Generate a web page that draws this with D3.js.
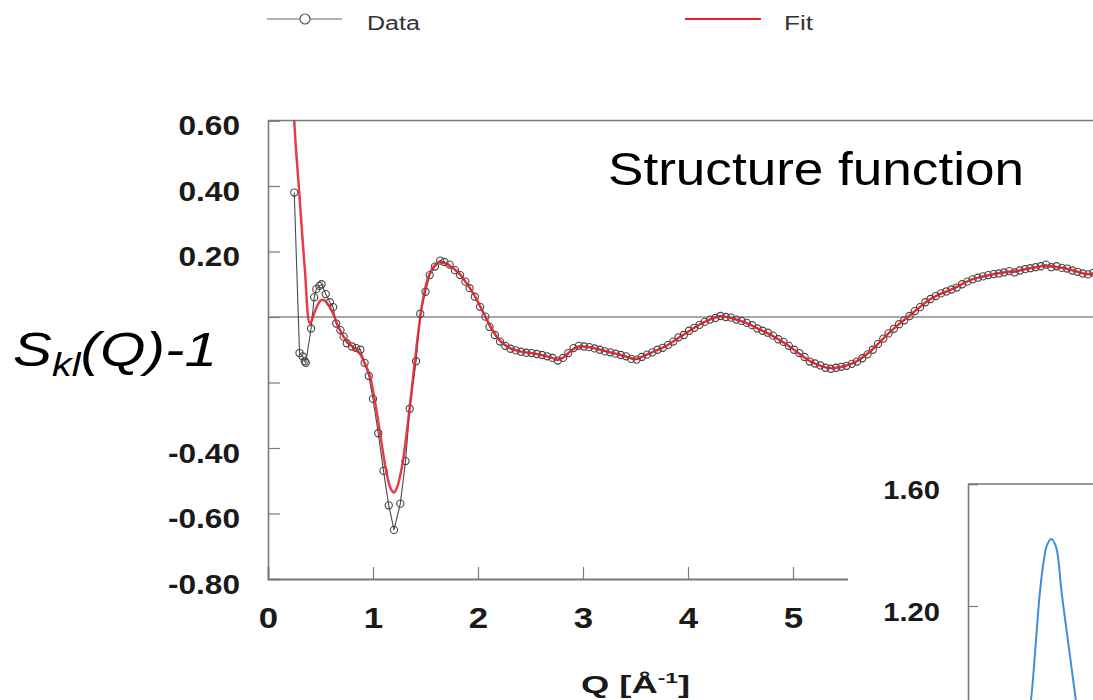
<!DOCTYPE html>
<html>
<head>
<meta charset="utf-8">
<script src="https://cdn.jsdelivr.net/npm/d3@7"></script>
<style>
  html, body { margin: 0; padding: 0; background: #fff; }
  svg { display: block; }
  text { font-family: "Liberation Sans", Arial, sans-serif; }
</style>
</head>
<body>
<svg id="chart" width="1093" height="700"></svg>
<script>
// Measured structure function S_kl(Q)-1 (open circles)
const dataQ = [0.25,0.30,0.33,0.35,0.36,0.41,0.44,0.46,0.49,0.51,0.55,0.59,0.62,0.65,0.69,0.72,0.75,0.80,0.84,0.88,
  0.92,0.96,1.00,1.05,1.10,1.15,1.20,1.26,1.31,1.35,1.41,1.45,1.50,1.54,1.59,1.64,1.68,1.73,1.78,1.83,
  1.88,1.92,1.97,2.02,2.07,2.11,2.16,2.21,2.26,2.31,2.36,2.41,2.46,2.51,2.56,2.61,2.66,2.71,2.76,2.81,
  2.86,2.91,2.96,3.01,3.06,3.11,3.16,3.21,3.26,3.31,3.36,3.41,3.46,3.51,3.56,3.61,3.66,3.71,3.76,3.81,
  3.86,3.91,3.96,4.01,4.06,4.11,4.16,4.21,4.26,4.31,4.36,4.41,4.46,4.51,4.56,4.61,4.66,4.71,4.76,4.81,
  4.86,4.91,4.96,5.01,5.06,5.11,5.16,5.21,5.26,5.31,5.36,5.41,5.46,5.51,5.56,5.61,5.66,5.71,5.76,5.81,
  5.86,5.91,5.96,6.01,6.06,6.11,6.16,6.21,6.26,6.31,6.36,6.41,6.46,6.51,6.56,6.61,6.66,6.71,6.76,6.81,
  6.86,6.91,6.96,7.01,7.06,7.11,7.16,7.21,7.26,7.31,7.36,7.41,7.46,7.51,7.56,7.61,7.66,7.71,7.76,7.81,7.86];
const dataS = [0.38,-0.11,-0.12,-0.135,-0.14,-0.035,0.06,0.085,0.095,0.10,0.07,0.045,0.03,-0.02,-0.04,-0.06,-0.08,-0.09,-0.095,-0.10,
  -0.14,-0.18,-0.25,-0.355,-0.47,-0.575,-0.65,-0.57,-0.44,-0.28,-0.135,0.01,0.077,0.128,0.154,0.172,0.168,0.16,0.143,0.128,
  0.108,0.088,0.062,0.031,0.001,-0.03,-0.055,-0.075,-0.088,-0.097,-0.102,-0.106,-0.109,-0.11,-0.113,-0.116,-0.12,-0.125,-0.133,-0.125,
  -0.11,-0.095,-0.088,-0.09,-0.092,-0.096,-0.10,-0.105,-0.108,-0.112,-0.116,-0.12,-0.128,-0.13,-0.122,-0.115,-0.108,-0.10,-0.094,-0.085,
  -0.075,-0.062,-0.055,-0.042,-0.033,-0.024,-0.015,-0.008,-0.003,0.003,0.0,-0.002,-0.008,-0.012,-0.018,-0.025,-0.035,-0.042,-0.048,-0.057,
  -0.068,-0.076,-0.088,-0.10,-0.11,-0.122,-0.136,-0.142,-0.148,-0.155,-0.158,-0.155,-0.152,-0.149,-0.143,-0.136,-0.126,-0.114,-0.10,-0.082,
  -0.066,-0.05,-0.036,-0.022,-0.01,0.003,0.018,0.03,0.045,0.055,0.064,0.072,0.078,0.084,0.09,0.10,0.108,0.115,0.12,0.124,
  0.128,0.131,0.133,0.136,0.14,0.136,0.142,0.146,0.149,0.152,0.155,0.16,0.152,0.155,0.15,0.148,0.142,0.138,0.133,0.13,0.135];

// Model fit (red curve)
const fitQ = [0.235,0.25,0.30,0.35,0.40,0.45,0.50,0.53,0.57,0.62,0.67,0.72,0.77,0.82,0.87,0.92,0.97,1.02,1.07,1.12,
  1.17,1.20,1.23,1.28,1.33,1.38,1.43,1.48,1.53,1.58,1.63,1.68,1.73,1.78,1.83,1.88,1.93,1.98,2.03,2.08,
  2.13,2.18,2.23,2.30,2.40,2.50,2.60,2.70,2.76,2.82,2.90,2.98,3.10,3.20,3.30,3.40,3.50,3.60,3.70,3.80,
  3.90,4.00,4.10,4.20,4.30,4.40,4.50,4.60,4.70,4.80,4.90,5.00,5.10,5.20,5.30,5.40,5.50,5.60,5.70,5.80,
  5.90,6.00,6.10,6.20,6.30,6.40,6.50,6.60,6.70,6.80,6.90,7.00,7.10,7.20,7.30,7.40,7.50,7.60,7.70,7.80,7.90];
const fitS = [0.80,0.60,0.37,0.15,-0.02,0.02,0.05,0.052,0.04,0.01,-0.03,-0.06,-0.08,-0.095,-0.11,-0.14,-0.18,-0.26,-0.36,-0.46,
  -0.525,-0.536,-0.52,-0.45,-0.33,-0.19,-0.05,0.06,0.125,0.155,0.168,0.165,0.155,0.145,0.13,0.108,0.085,0.058,0.027,-0.005,
  -0.035,-0.06,-0.078,-0.094,-0.105,-0.11,-0.116,-0.124,-0.13,-0.122,-0.10,-0.09,-0.095,-0.103,-0.111,-0.12,-0.128,-0.116,-0.102,-0.087,
  -0.066,-0.045,-0.025,-0.009,0.002,-0.002,-0.012,-0.025,-0.041,-0.057,-0.076,-0.098,-0.122,-0.141,-0.153,-0.156,-0.149,-0.136,-0.114,-0.085,
  -0.053,-0.024,0.002,0.028,0.053,0.07,0.083,0.099,0.114,0.123,0.13,0.136,0.139,0.145,0.151,0.156,0.153,0.148,0.139,0.131,0.133];

const xTicks = [0, 1, 2, 3, 4, 5];
const yTicks = [0.60, 0.40, 0.20, 0.00, -0.20, -0.40, -0.60, -0.80];
// ticks whose labels sit behind the axis-title panel
const yTicksUnlabelled = [0.00, -0.20];

// Inset: first peak of the pair distribution (blue)
const insetR = [0.95,1.07,1.18,1.26,1.33,1.40,1.46,1.54,1.63,1.735,1.857,1.98,2.10,2.25];
const insetG = [0.30,0.75,0.914,1.09,1.242,1.345,1.398,1.42,1.394,1.242,1.078,0.914,0.74,0.45];
const insetTicks = [1.60, 1.20];

const svg = d3.select("#chart");
const FONT = '"Liberation Sans", Arial, sans-serif';
const axisGray = "#7a7a7a";

// Widen glyphs a touch, as in the printed figure
function stretch(sel, f) {
  sel.each(function () {
    const L = this.getComputedTextLength();
    if (L > 0) d3.select(this).attr("textLength", L * f).attr("lengthAdjust", "spacingAndGlyphs");
  });
}

// ---- Legend ----
const leg = svg.append("g");
leg.append("line").attr("x1", 267).attr("x2", 342).attr("y1", 19).attr("y2", 19)
  .attr("stroke", "#666").attr("stroke-width", 1.2);
leg.append("circle").attr("cx", 305).attr("cy", 19).attr("r", 5)
  .attr("fill", "#fff").attr("stroke", "#555").attr("stroke-width", 1.2);
leg.append("text").attr("x", 367).attr("y", 30).attr("font-size", 20).attr("fill", "#333")
  .text("Data").attr("textLength", 53).attr("lengthAdjust", "spacingAndGlyphs");
leg.append("line").attr("x1", 685).attr("x2", 761).attr("y1", 19).attr("y2", 19)
  .attr("stroke", "#e3232c").attr("stroke-width", 2);
leg.append("text").attr("x", 784).attr("y", 30).attr("font-size", 20).attr("fill", "#333")
  .text("Fit").attr("textLength", 29).attr("lengthAdjust", "spacingAndGlyphs");

// ---- Main plot ----
const x = d3.scaleLinear().domain([0, 8]).range([268, 1108]);
const y = d3.scaleLinear().domain([-0.8, 0.6]).range([579, 120.5]);

svg.append("defs").append("clipPath").attr("id", "plotClip")
  .append("rect").attr("x", 268).attr("y", 120.5).attr("width", 840).attr("height", 458.5);

// frame: top edge
svg.append("line").attr("x1", 268).attr("x2", 1108).attr("y1", y(0.6)).attr("y2", y(0.6))
  .attr("stroke", axisGray).attr("stroke-width", 1.5);

// zero line
svg.append("line").attr("x1", x(0)).attr("x2", 1108).attr("y1", y(0)).attr("y2", y(0))
  .attr("stroke", "#555").attr("stroke-width", 1.2);

// y axis
const yAxis = svg.append("g").attr("transform", `translate(${x(0)},0)`)
  .call(d3.axisLeft(y).tickValues(yTicks).tickSize(-12).tickPadding(28)
    .tickFormat(d => yTicksUnlabelled.includes(d) ? "" : d.toFixed(2)));
yAxis.select(".domain").attr("stroke", axisGray).attr("stroke-width", 1.6);
yAxis.selectAll(".tick line").attr("stroke", axisGray).attr("stroke-width", 1.2);
yAxis.selectAll(".tick text").attr("font-family", FONT).attr("font-size", 28).attr("font-weight", "bold")
  .attr("fill", "#1a1a1a").attr("dy", "0.5em").call(stretch, 1.13);

// x axis
const xAxis = svg.append("g").attr("transform", `translate(0,${y(-0.8)})`)
  .call(d3.axisBottom(x).tickValues(xTicks).tickSize(-12).tickPadding(28).tickFormat(d3.format("d")));
xAxis.select(".domain").attr("stroke", axisGray).attr("stroke-width", 1.8);
xAxis.selectAll(".tick line").attr("stroke", axisGray).attr("stroke-width", 1.2);
xAxis.selectAll(".tick text").attr("font-family", FONT).attr("font-size", 29).attr("font-weight", "bold")
  .attr("fill", "#1a1a1a").call(stretch, 1.2);

const plot = svg.append("g").attr("clip-path", "url(#plotClip)");
const dataPts = dataQ.map((q, i) => [q, dataS[i]]);
const fitPts = fitQ.map((q, i) => [q, fitS[i]]);

plot.append("path").datum(dataPts)
  .attr("d", d3.line().x(d => x(d[0])).y(d => y(d[1])))
  .attr("fill", "none").attr("stroke", "#4a4a4a").attr("stroke-width", 1.1);

plot.selectAll("circle.pt").data(dataPts).join("circle").attr("class", "pt")
  .attr("cx", d => x(d[0])).attr("cy", d => y(d[1])).attr("r", 3.6)
  .attr("fill", "none").attr("stroke", "#444").attr("stroke-width", 1.1);

plot.append("path").datum(fitPts)
  .attr("d", d3.line().x(d => x(d[0])).y(d => y(d[1])).curve(d3.curveCatmullRom.alpha(0.5)))
  .attr("fill", "none").attr("stroke", "#e3232c").attr("stroke-width", 2.5).attr("stroke-opacity", 0.88);

// title
svg.append("text").attr("x", 608).attr("y", 185).attr("font-size", 46).attr("fill", "#000")
  .text("Structure function").attr("textLength", 416).attr("lengthAdjust", "spacingAndGlyphs");

// x axis title
const xl = svg.append("text").attr("x", 581).attr("y", 693).attr("font-size", 24)
  .attr("font-weight", "bold").attr("fill", "#1a1a1a");
xl.append("tspan").text("Q [Å");
xl.append("tspan").attr("font-size", 15).attr("dy", -10).text("-1");
xl.append("tspan").attr("dy", 10).text("]");
xl.attr("textLength", 109).attr("lengthAdjust", "spacingAndGlyphs");

// y axis title on a white panel
svg.append("rect").attr("x", 0).attr("y", 305).attr("width", 256).attr("height", 101).attr("fill", "#fff");
const yl = svg.append("text").attr("x", 13).attr("y", 366).attr("font-size", 49)
  .attr("font-style", "italic").attr("fill", "#000");
yl.append("tspan").text("S");
yl.append("tspan").attr("font-size", 33).attr("dy", 10).text("kl");
yl.append("tspan").attr("dy", -10).text("(Q)-1");
yl.attr("textLength", 204).attr("lengthAdjust", "spacingAndGlyphs");

// ---- Inset ----
const ins = svg.append("g");
ins.append("rect").attr("x", 848).attr("y", 462).attr("width", 245).attr("height", 238).attr("fill", "#fff");
const ix = d3.scaleLinear().domain([0, 8]).range([968, 1400]);
const iy = d3.scaleLinear().domain([0.4, 1.6]).range([850, 484]);

ins.append("line").attr("x1", 968).attr("x2", 1100).attr("y1", iy(1.6)).attr("y2", iy(1.6))
  .attr("stroke", axisGray).attr("stroke-width", 1.5);
const iAxis = ins.append("g").attr("transform", "translate(968,0)")
  .call(d3.axisLeft(iy).tickValues(insetTicks).tickSize(-10).tickPadding(28).tickFormat(d => d.toFixed(2)));
iAxis.select(".domain").attr("stroke", axisGray).attr("stroke-width", 1.6);
iAxis.selectAll(".tick line").attr("stroke", axisGray).attr("stroke-width", 1.2);
iAxis.selectAll(".tick text").attr("font-family", FONT).attr("font-size", 26).attr("font-weight", "bold")
  .attr("fill", "#1a1a1a").attr("dy", "0.55em").call(stretch, 1.12);

ins.append("path").datum(insetR.map((r, i) => [r, insetG[i]]))
  .attr("d", d3.line().x(d => ix(d[0])).y(d => iy(d[1])).curve(d3.curveCatmullRom.alpha(0.5)))
  .attr("fill", "none").attr("stroke", "#3d8fdc").attr("stroke-width", 2);
</script>
</body>
</html>
